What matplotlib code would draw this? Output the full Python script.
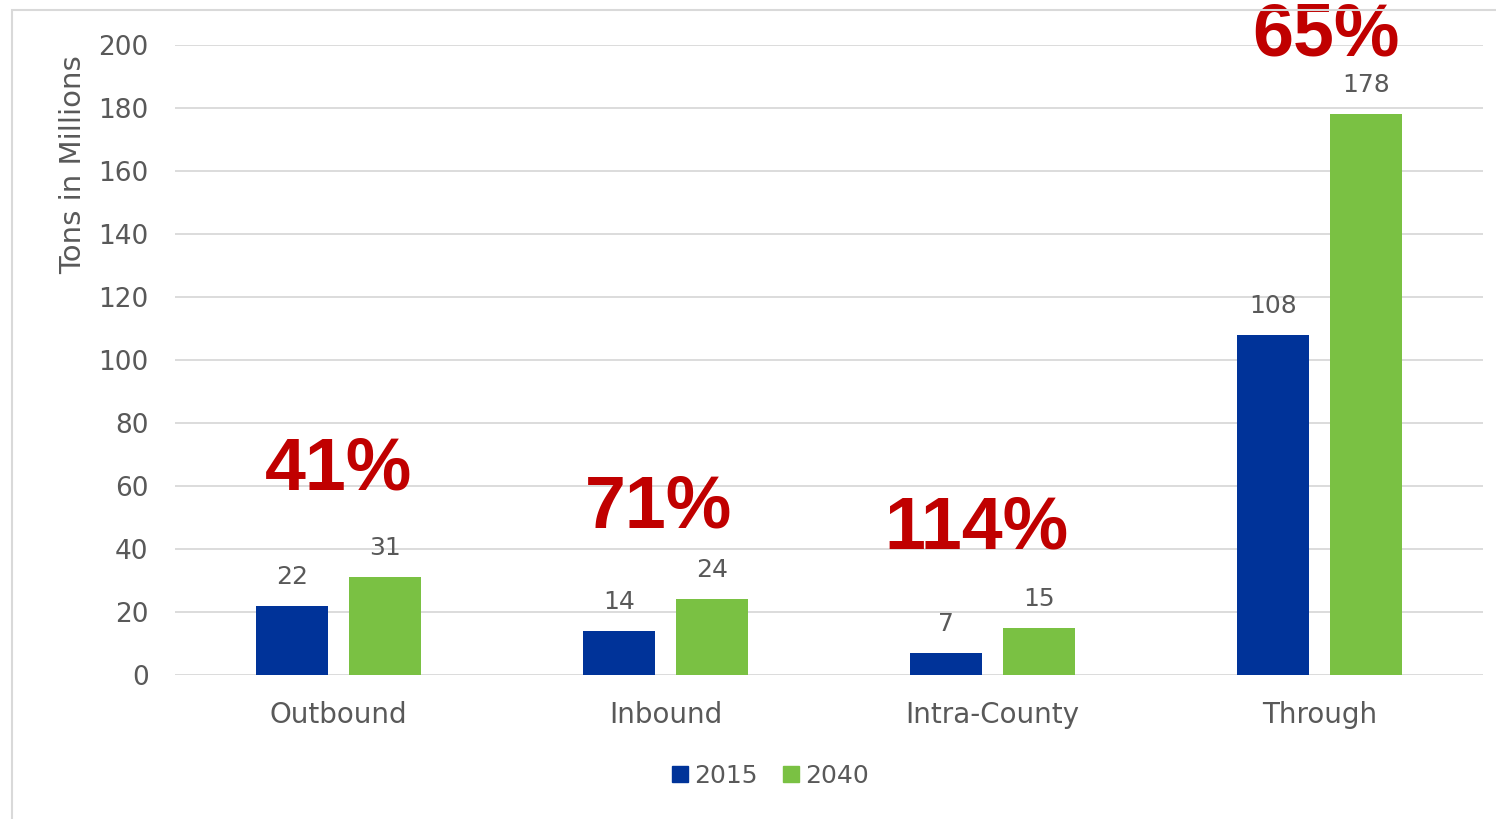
import matplotlib
matplotlib.use("Agg")
import matplotlib.pyplot as plt
from matplotlib.patches import Rectangle
from matplotlib.lines import Line2D
import numpy as np

categories = ["Outbound", "Inbound", "Intra-County", "Through"]
series_names = ["2015", "2040"]
values_2015 = [22, 14, 7, 108]
values_2040 = [31, 24, 15, 178]
growth_labels = ["41%", "71%", "114%", "65%"]
y_ticks = [0, 20, 40, 60, 80, 100, 120, 140, 160, 180, 200]

C2015 = "#003399"
C2040 = "#7AC143"
GRAY = "#595959"
GRID = "#D9D9D9"
RED = "#C00000"
FONT = "DejaVu Sans"

W, H = 1496, 819
fig = plt.figure(figsize=(W / 100, H / 100), dpi=100)
ax = fig.add_axes([175 / W, 1 - 675 / H, (1483 - 175) / W, (675 - 45) / H])

x = np.arange(len(categories))
bw = 0.22
off = 0.143
b1 = ax.bar(x - off, values_2015, bw, color=C2015, zorder=3)
b2 = ax.bar(x + off, values_2040, bw, color=C2040, zorder=3)

for bars, vals in ((b1, values_2015), (b2, values_2040)):
    for r, v in zip(bars, vals):
        ax.annotate(f"{v}", (r.get_x() + r.get_width() / 2, v), xytext=(0, 21),
                    textcoords="offset points", ha="center", va="center",
                    fontsize=18, color=GRAY, family=FONT)

# growth annotations: (x offset from category, y in data units)
pct_pos = [(0.0, 65), (-0.02, 53), (-0.05, 46.5), (0.02, 203)]
for xi, (dx, py), lab in zip(x, pct_pos, growth_labels):
    ax.text(xi + dx, py, lab, ha="center", va="center", fontsize=53, fontweight="bold",
            color=RED, family="Liberation Sans", clip_on=False, zorder=5)

ax.set_xlim(-0.5, 3.5)
ax.set_ylim(0, 200)
ax.set_yticks(y_ticks)
ax.set_xticks(x)
ax.set_xticklabels(categories)
ax.tick_params(axis="y", length=0, pad=19, labelsize=19, labelcolor=GRAY)
ax.tick_params(axis="x", length=0, pad=19, labelsize=20, labelcolor=GRAY)
for lab in ax.get_xticklabels() + ax.get_yticklabels():
    lab.set_family(FONT)
ax.grid(axis="y", color=GRID, linewidth=1.3, zorder=0)
for s in ax.spines.values():
    s.set_visible(False)

fig.text(73 / W, 1 - 165 / H, "Tons in Millions", rotation=90, ha="center", va="center",
         fontsize=21, color=GRAY, family=FONT)

handles = [Line2D([], [], marker="s", linestyle="none", markersize=12, color=C2015),
           Line2D([], [], marker="s", linestyle="none", markersize=12, color=C2040)]
fig.legend(handles, series_names, loc="center", bbox_to_anchor=(770 / W, 1 - 776 / H),
           ncol=2, frameon=False, handlelength=0.7, handletextpad=0.2,
           columnspacing=1.0, labelcolor=GRAY, prop={"family": FONT, "size": 18})

fig.add_artist(Rectangle((12 / W, -0.1), 1.2, 1.1 - 10 / H, transform=fig.transFigure,
                         fill=False, edgecolor=GRID, linewidth=1.5))

fig.savefig("out.png", dpi=100)
